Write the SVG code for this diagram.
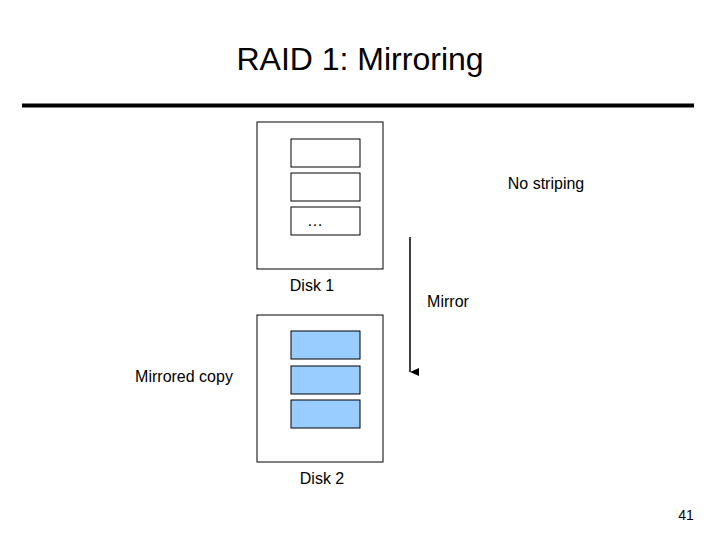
<svg xmlns="http://www.w3.org/2000/svg" width="720" height="540" viewBox="0 0 720 540">
<style>
text{font-family:"Liberation Sans",Arial,sans-serif;fill:#000}
.box{fill:#fff;stroke:#000;stroke-width:1}
.blk{fill:#fff;stroke:#000;stroke-width:1}
.blue{fill:#99ccff;stroke:#000;stroke-width:1}
.lbl{font-size:16px}
</style>
<defs><marker id="ah" markerWidth="10" markerHeight="10" refX="5" refY="9" orient="auto" markerUnits="userSpaceOnUse"><path d="M1,0 L5,9 L9,0 Z" fill="#000"/></marker></defs>
<rect width="720" height="540" fill="#fff"/>
<text x="360" y="70" font-size="32" text-anchor="middle">RAID 1: Mirroring</text>
<line x1="22" y1="105.500" x2="694" y2="105.500" stroke="#000" stroke-width="4"/>
<g id="disk1">
<rect class="box" x="257" y="122" width="126" height="147"/>
<rect class="blk" x="291" y="139" width="69" height="28"/>
<rect class="blk" x="291" y="173" width="69" height="28"/>
<rect class="blk" x="291" y="207" width="69" height="28"/>
<text x="315" y="226" class="lbl" text-anchor="middle">…</text>
<text x="312" y="291" class="lbl" text-anchor="middle">Disk 1</text>
</g>
<g id="disk2">
<rect class="box" x="257" y="315" width="126" height="147"/>
<rect class="blue" x="291" y="331" width="69" height="28"/>
<rect class="blue" x="291" y="366" width="69" height="28"/>
<rect class="blue" x="291" y="400" width="69" height="28"/>
<text x="322" y="484" class="lbl" text-anchor="middle">Disk 2</text>
</g>
<g id="connectors">
<line x1="410" y1="237" x2="410" y2="372" stroke="#000" stroke-width="1.500" marker-end="url(#ah)"/>
</g>
<text x="448" y="307" class="lbl" text-anchor="middle">Mirror</text>
<text x="546" y="189" class="lbl" text-anchor="middle">No striping</text>
<text x="184" y="382" class="lbl" text-anchor="middle">Mirrored copy</text>
<text x="686" y="520" font-size="14" text-anchor="middle">41</text>
</svg>
